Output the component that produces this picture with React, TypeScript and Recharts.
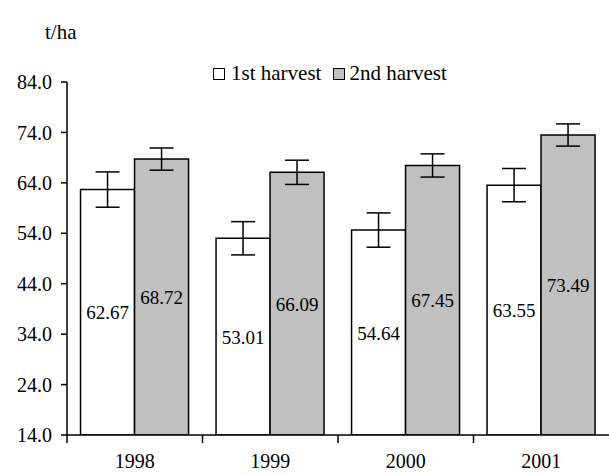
import React from "react";
import { BarChart, Bar, XAxis, YAxis, ErrorBar, LabelList, Legend } from "recharts";

const years = ["1998", "1999", "2000", "2001"];
const firstHarvest = [62.67, 53.01, 54.64, 63.55];
const secondHarvest = [68.72, 66.09, 67.45, 73.49];
const firstErr = [3.5, 3.3, 3.4, 3.3];
const secondErr = [2.2, 2.4, 2.3, 2.2];
const yTicks = [14, 24, 34, 44, 54, 64, 74, 84];

const data = years.map((y, i) => ({
  year: y,
  h1: firstHarvest[i],
  h2: secondHarvest[i],
  e1: firstErr[i],
  e2: secondErr[i],
}));

const FONT = "'Liberation Serif', 'Times New Roman', serif";

const XTick = (props: any) => {
  const { x, y, payload } = props;
  const band = 542 / years.length;
  return (
    <g>
      <line x1={x - band / 2} y1={y - 8} x2={x - band / 2} y2={y} stroke="#000" strokeWidth={1.5} />
      <text x={x} y={y + 25} textAnchor="middle" fontFamily={FONT} style={{ fontFamily: FONT }} fontSize={20} fill="#000">
        {payload.value}
      </text>
    </g>
  );
};

const ValueLabel = (props: any) => {
  const { x, y, width, height, value } = props;
  return (
    <text
      x={Number(x) + Number(width) / 2}
      y={Number(y) + Number(height) / 2 + 7}
      textAnchor="middle"
      fontFamily={FONT}
      style={{ fontFamily: FONT }}
      fontSize={19}
      fill="#000"
    >
      {Number(value).toFixed(2)}
    </text>
  );
};

const LegendContent = () => (
  <div style={{ display: "flex", alignItems: "center", fontFamily: FONT, fontSize: 21, lineHeight: "24px", color: "#000", whiteSpace: "nowrap" }}>
    <span style={{ display: "inline-block", boxSizing: "border-box", width: 12, height: 12, border: "1.5px solid #000", background: "#fff", marginRight: 6, position: "relative", top: 1 }} />
    <span style={{ marginRight: 12 }}>1st harvest</span>
    <span style={{ display: "inline-block", boxSizing: "border-box", width: 12, height: 12, border: "1.5px solid #000", background: "#C0C0C0", marginRight: 4, position: "relative", top: 1 }} />
    <span>2nd harvest</span>
  </div>
);

export default function App() {
  return (
    <div style={{ position: "absolute", left: 0, top: 0, width: 609, height: 474, background: "#fff" }}>
      <div style={{ position: "absolute", left: 45, top: 20, fontFamily: FONT, fontSize: 21, color: "#000", whiteSpace: "nowrap" }}>t/ha</div>
      <BarChart
        width={609}
        height={474}
        data={data}
        margin={{ top: 58, right: 0, bottom: 9, left: 7 }}
        barCategoryGap="10%"
        barGap={0}
      >
        <XAxis
          dataKey="year"
          height={30}
          axisLine={{ stroke: "#000", strokeWidth: 1.5 }}
          tickLine={false}
          tick={<XTick />}
          interval={0}
        />
        <YAxis
          width={60}
          domain={[14, 84]}
          ticks={yTicks}
          allowDataOverflow
          axisLine={{ stroke: "#000", strokeWidth: 1.5 }}
          tickLine={{ stroke: "#000", strokeWidth: 1.5 }}
          tickSize={6}
          tickMargin={9}
          tickFormatter={(v: number) => v.toFixed(1)}
          tick={{ fontFamily: FONT, fontSize: 20, fill: "#000", style: { fontFamily: FONT } }}
        />
        <Legend
          verticalAlign="top"
          content={<LegendContent />}
          wrapperStyle={{ position: "absolute", top: 61, left: 213, width: "auto" }}
        />
        <Bar dataKey="h1" fill="#fff" stroke="#000" strokeWidth={1.5} isAnimationActive={false}>
          <ErrorBar dataKey="e1" width={12} stroke="#000" strokeWidth={1.5} direction="y" />
          <LabelList dataKey="h1" content={<ValueLabel />} />
        </Bar>
        <Bar dataKey="h2" fill="#C0C0C0" stroke="#000" strokeWidth={1.5} isAnimationActive={false}>
          <ErrorBar dataKey="e2" width={12} stroke="#000" strokeWidth={1.5} direction="y" />
          <LabelList dataKey="h2" content={<ValueLabel />} />
        </Bar>
      </BarChart>
    </div>
  );
}
